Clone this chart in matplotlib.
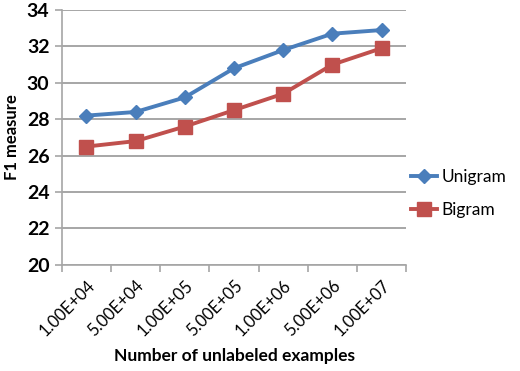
import numpy as np
import matplotlib.pyplot as plt

plt.rcParams['font.family'] = ['Lato', 'DejaVu Sans']

categories = ['1.00E+04', '5.00E+04', '1.00E+05', '5.00E+05',
              '1.00E+06', '5.00E+06', '1.00E+07']
unigram = [28.2, 28.4, 29.2, 30.8, 31.8, 32.7, 32.9]
bigram = [26.5, 26.8, 27.6, 28.5, 29.4, 31.0, 31.9]

blue = '#4A7EBB'
red = '#C0504D'

fig = plt.figure(figsize=(5.2, 3.71), dpi=100)
ax = fig.add_axes([0.119, 0.286, 0.662, 0.687])

x = np.arange(len(categories))
ax.plot(x, unigram, color=blue, lw=2.8, marker='D', ms=7.5,
        label='Unigram', zorder=3)
ax.plot(x, bigram, color=red, lw=2.8, marker='s', ms=9.5,
        label='Bigram', zorder=3)

ax.set_xlim(-0.5, len(categories) - 0.5)
ax.set_ylim(20, 34)
ax.set_yticks(range(20, 35, 2))
ax.yaxis.grid(True, color='#A6A6A6', lw=1.4)
ax.set_axisbelow(True)

ax.set_xticks(np.arange(-0.5, len(categories), 1.0))
ax.set_xticklabels([])
ax.set_xticks(x, minor=True)
ax.set_xticklabels(categories, minor=True, rotation=45, ha='right',
                   rotation_mode='anchor', fontsize=12)
ax.tick_params(axis='x', which='minor', length=0, pad=9)
ax.tick_params(axis='x', which='major', length=5, color='#A6A6A6', width=1.2)
ax.tick_params(axis='y', length=5, color='#A6A6A6', width=1.2, labelsize=14,
               pad=4)
for lab in ax.get_yticklabels():
    lab.set_fontweight('bold')

for s in ['top', 'right']:
    ax.spines[s].set_visible(False)
for s in ['left', 'bottom']:
    ax.spines[s].set_color('#A6A6A6')
    ax.spines[s].set_linewidth(1.2)

ax.set_ylabel('F1 measure', fontsize=12, fontweight='bold', labelpad=5)
ax.set_xlabel('Number of unlabeled examples', fontsize=12.5,
              fontweight='bold', labelpad=6)

ax.legend(loc='center left', bbox_to_anchor=(1.0, 0.28), frameon=False,
          fontsize=12.5, handlelength=1.5, labelspacing=1.0,
          handletextpad=0.25, borderaxespad=0.1, borderpad=0.2)

fig.savefig('out.png', dpi=100)
